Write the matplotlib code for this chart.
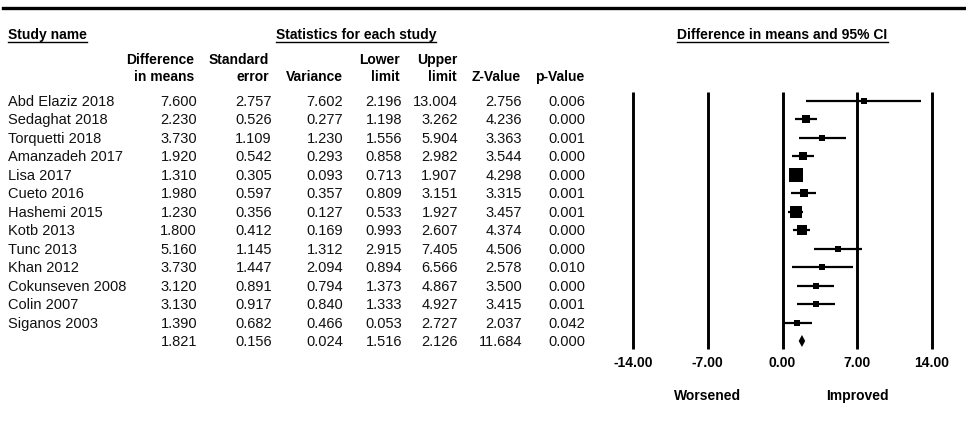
import numpy as np
import matplotlib.pyplot as plt
from matplotlib.lines import Line2D

plt.rcParams['font.family'] = ['Liberation Sans', 'DejaVu Sans']

studies = ['Abd Elaziz 2018', 'Sedaghat 2018', 'Torquetti 2018', 'Amanzadeh 2017',
           'Lisa 2017', 'Cueto 2016', 'Hashemi 2015', 'Kotb 2013', 'Tunc 2013',
           'Khan 2012', 'Cokunseven 2008', 'Colin 2007', 'Siganos 2003']
diff = [7.600, 2.230, 3.730, 1.920, 1.310, 1.980, 1.230, 1.800, 5.160, 3.730, 3.120, 3.130, 1.390]
se = [2.757, 0.526, 1.109, 0.542, 0.305, 0.597, 0.356, 0.412, 1.145, 1.447, 0.891, 0.917, 0.682]
var = [7.602, 0.277, 1.230, 0.293, 0.093, 0.357, 0.127, 0.169, 1.312, 2.094, 0.794, 0.840, 0.466]
lower = [2.196, 1.198, 1.556, 0.858, 0.713, 0.809, 0.533, 0.993, 2.915, 0.894, 1.373, 1.333, 0.053]
upper = [13.004, 3.262, 5.904, 2.982, 1.907, 3.151, 1.927, 2.607, 7.405, 6.566, 4.867, 4.927, 2.727]
zval = [2.756, 4.236, 3.363, 3.544, 4.298, 3.315, 3.457, 4.374, 4.506, 2.578, 3.500, 3.415, 2.037]
pval = [0.006, 0.000, 0.001, 0.000, 0.000, 0.001, 0.001, 0.000, 0.000, 0.010, 0.000, 0.001, 0.042]

# pooled estimate
pooled = [1.821, 0.156, 0.024, 1.516, 2.126, 11.684, 0.000]

ticks = [-14, -7, 0, 7, 14]
side_labels = {-7: 'Worsened', 7: 'Improved'}

W, H = 966, 435
fig = plt.figure(figsize=(W / 100, H / 100), dpi=100)

# row layout: row 0 at 102 px, 18.46 px per row
y0, dy = 102, 18.46
def r(px):
    return (px - y0) / dy
ylim = (r(H), r(0))

# table axes in pixel x units
ax = fig.add_axes([0, 0, 1, 1])
ax.set_xlim(0, W)
ax.set_ylim(*ylim)
ax.axis('off')

ax.add_line(Line2D([3, W], [r(9), r(9)], color='black', lw=2.4))

fs_h = 10
fs = 10.5
t1 = ax.text(8, r(35), 'Study name', fontsize=fs_h, fontweight='bold', va='center', ha='left')
t2 = ax.text(356, r(35), 'Statistics for each study', fontsize=fs_h, fontweight='bold', va='center', ha='center')

col_x = [197, 272, 343, 402, 458, 522, 585]
headers = [('Difference', 'in means'), ('Standard', 'error'), ('', 'Variance'),
           ('Lower', 'limit'), ('Upper', 'limit'), ('', 'Z-Value'), ('', 'p-Value')]
hx = [194, 269, 343, 400, 457, 521, 584]
for x, (a, b) in zip(hx, headers):
    if a:
        ax.text(x, r(60), a, fontsize=fs_h, fontweight='bold', va='center', ha='right')
    ax.text(x, r(77), b, fontsize=fs_h, fontweight='bold', va='center', ha='right')

cols = [diff, se, var, lower, upper, zval, pval]
for i, name in enumerate(studies):
    ax.text(8, i, name, fontsize=fs, va='center', ha='left', color='#111111')
    for x, c in zip(col_x, cols):
        ax.text(x, i, f'{c[i]:.3f}', fontsize=fs, va='center', ha='right', color='#111111')
n = len(studies)
for x, v in zip(col_x, pooled):
    ax.text(x, n, f'{v:.3f}', fontsize=fs, va='center', ha='right', color='#111111')

# forest plot axes
x_left, x_right = 633, 932
fx = fig.add_axes([x_left / W, 0, (x_right - x_left) / W, 1])
fx.set_xlim(-14, 14)
fx.set_ylim(*ylim)
fx.axis('off')

t3 = fx.text(0, r(35), 'Difference in means and 95% CI', fontsize=fs_h, fontweight='bold',
             va='center', ha='center')

for t in ticks:
    fx.plot([t, t], [r(93), r(350)], color='black', lw=2.1, solid_capstyle='butt', clip_on=False)
    fx.text(t, r(363), f'{t:.2f}', fontsize=fs_h, fontweight='bold', va='center', ha='center')
for t, lab in side_labels.items():
    fx.text(t, r(396), lab, fontsize=fs_h, fontweight='bold', va='center', ha='center')

w = 1 / np.array(var)
sizes = np.maximum(6, 14 * np.sqrt(w / w.max())) * 0.72  # px -> pt
for i in range(n):
    fx.plot([lower[i], upper[i]], [i, i], color='black', lw=1.6, solid_capstyle='butt', clip_on=False)
    fx.plot(diff[i], i, marker='s', color='black', markersize=sizes[i], markeredgewidth=0, clip_on=False)

# summary diamond
dh = 6 / dy
fx.fill([pooled[3], pooled[0], pooled[4], pooled[0]], [n, n - dh, n, n + dh], color='black', lw=0)

# underline headings
fig.canvas.draw()
rend = fig.canvas.get_renderer()
for t in (t1, t2, t3):
    bb = t.get_window_extent(rend)
    ypx = H - bb.y0 + 1
    ax.add_line(Line2D([bb.x0, bb.x1], [r(ypx), r(ypx)], color='black', lw=1.0))

fig.savefig('out.png', dpi=100)
